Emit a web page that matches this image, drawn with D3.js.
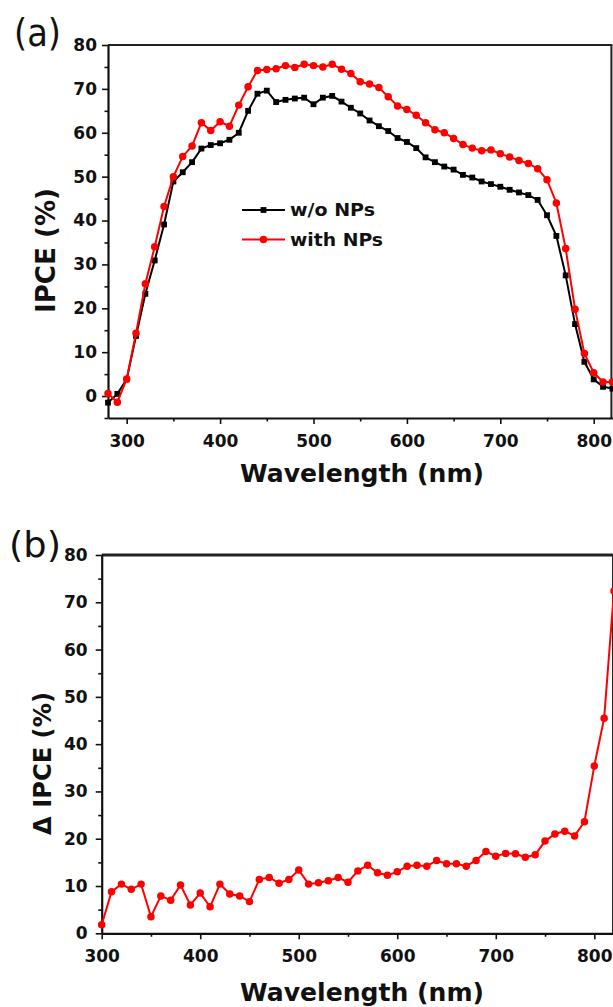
<!DOCTYPE html>
<html><head><meta charset="utf-8">
<script src="https://cdn.jsdelivr.net/npm/d3@7/dist/d3.min.js"></script>
<style>body{margin:0;background:#fff} svg{display:block}</style>
</head><body><svg id="c" width="613" height="1007"></svg>
<script>
// ---------- DATA ----------
const wavelengthA = [280,290,300,310,320,330,340,350,360,370,380,390,400,410,420,430,440,450,460,470,480,490,500,510,520,530,540,550,560,570,580,590,600,610,620,630,640,650,660,670,680,690,700,710,720,730,740,750,760,770,780,790,800,810,820];
const ipceWithout = [-1.5,0.5,3.8,13.7,23.3,30.9,39.1,48.9,51.0,53.3,56.4,57.2,57.6,58.4,60.0,65.0,68.9,69.6,67.0,67.5,67.8,68.0,66.5,68.0,68.4,67.1,65.7,64.4,62.8,61.5,60.4,58.8,57.9,56.5,54.4,53.3,52.3,51.6,50.4,49.8,48.9,48.3,47.7,47.0,46.4,45.8,44.7,41.2,36.5,27.5,16.4,7.8,3.8,2.1,1.7];
const ipceWith = [0.6,-1.4,3.9,14.3,25.6,34.0,43.2,50.0,54.6,57.0,62.3,60.5,62.5,61.5,66.3,70.5,74.2,74.4,74.6,75.3,74.9,75.6,75.3,75.0,75.6,74.5,73.5,71.6,71.1,70.3,68.2,66.1,65.3,64.0,62.3,60.7,60.0,58.7,57.3,56.5,55.9,56.1,55.2,54.5,53.7,53.0,51.8,49.3,44.0,33.6,19.8,9.7,5.3,3.2,3.2];
const wavelengthB = [300,310,320,330,340,350,360,370,380,390,400,410,420,430,440,450,460,470,480,490,500,510,520,530,540,550,560,570,580,590,600,610,620,630,640,650,660,670,680,690,700,710,720,730,740,750,760,770,780,790,800,810,820];
const deltaIPCE = [1.8,8.8,10.4,9.3,10.4,3.5,7.9,7.0,10.2,6.0,8.5,5.6,10.4,8.3,7.9,6.7,11.4,11.8,10.6,11.4,13.4,10.4,10.7,11.1,11.8,10.8,13.2,14.4,12.8,12.3,13.0,14.2,14.4,14.2,15.4,14.7,14.7,14.2,15.4,17.3,16.3,16.9,16.8,16.1,16.6,19.5,21.0,21.6,20.6,23.6,35.4,45.5,72.4];

const seriesNames = ["w/o NPs", "with NPs"];
const xMajorTicks = [300,400,500,600,700,800];
const xMinorTicks = [350,450,550,650,750];
const yMajorTicksA = [0,10,20,30,40,50,60,70,80];
const yMinorTicksA = [-5,5,15,25,35,45,55,65,75];
const yMajorTicksB = [0,10,20,30,40,50,60,70,80];
const yMinorTicksB = [5,15,25,35,45,55,65,75];
const xTitle = "Wavelength (nm)";
const yTitleA = "IPCE (%)";
const yTitleB = "\u0394 IPCE (%)";
const panelLabels = ["(a)", "(b)"];

// ---------- DRAW ----------
const svg = d3.select("#c");
const FONT = "'DejaVu Sans', Arial, sans-serif";
const RED = "#ff0000";

function axes(x, y, xMaj, xMin, yMaj, yMin, yPad, topW) {
  const g = svg.append("g");
  const y0 = y.range()[0], x0 = x.range()[0];
  g.append("line").attr("x1", x0).attr("x2", x.range()[1]).attr("y1", y.range()[1]).attr("y2", y.range()[1])
    .attr("stroke", "#222").attr("stroke-width", topW);
  g.append("line").attr("x1", x.range()[1]-1).attr("x2", x.range()[1]-1).attr("y1", y.range()[1]).attr("y2", y0)
    .attr("stroke", "#222").attr("stroke-width", 2);
  const gx = g.append("g").attr("transform", `translate(0,${y0})`);
  gx.call(d3.axisBottom(x).tickValues(xMaj).tickSize(6).tickSizeOuter(0).tickPadding(11).tickFormat(d3.format("d")));
  gx.append("g").call(d3.axisBottom(x).tickValues(xMin).tickSize(3.5).tickSizeOuter(0).tickFormat(""))
    .select(".domain").remove();
  const gy = g.append("g").attr("transform", `translate(${x0},0)`);
  gy.call(d3.axisLeft(y).tickValues(yMaj).tickSize(6).tickSizeOuter(0).tickPadding(yPad).tickFormat(d3.format("d")));
  gy.append("g").call(d3.axisLeft(y).tickValues(yMin).tickSize(3.5).tickSizeOuter(0).tickFormat(""))
    .select(".domain").remove();
  g.selectAll(".domain").attr("stroke", "#111").attr("stroke-width", 2.2);
  g.selectAll(".tick line").attr("stroke", "#111").attr("stroke-width", 1.6);
  g.selectAll(".tick text").attr("font-family", FONT).attr("font-weight", "bold")
    .attr("font-size", 17).attr("fill", "#111");
  return g;
}

function lineSeries(x, y, xs, ys, color, shape) {
  const pts = xs.map((d, i) => [d, ys[i]]);
  const line = d3.line().x(d => x(d[0])).y(d => y(d[1]));
  svg.append("path").attr("d", line(pts)).attr("fill", "none").attr("stroke", color).attr("stroke-width", 2);
  const sym = d3.symbol().type(shape === "square" ? d3.symbolSquare : d3.symbolCircle).size(shape === "square" ? 34 : 44);
  svg.append("g").selectAll("path").data(pts).join("path")
    .attr("transform", d => `translate(${x(d[0])},${y(d[1])})`)
    .attr("d", sym).attr("fill", color);
}

// Panel (a)
const xA = d3.scaleLinear().domain([280, 820]).range([108, 612.4]);
const yA = d3.scaleLinear().domain([-5, 80]).range([418, 45]);
axes(xA, yA, xMajorTicks, xMinorTicks, yMajorTicksA, yMinorTicksA, 5, 2.2);
lineSeries(xA, yA, wavelengthA, ipceWithout, "#000", "square");
lineSeries(xA, yA, wavelengthA, ipceWith, RED, "circle");

// legend
const legColors = ["#000", RED], legShapes = ["square", "circle"];
seriesNames.forEach((name, i) => {
  const ly = 210 + i * 29.5;
  svg.append("line").attr("x1", 242).attr("x2", 285).attr("y1", ly).attr("y2", ly)
    .attr("stroke", legColors[i]).attr("stroke-width", 2);
  svg.append("path").attr("transform", `translate(263.5,${ly})`)
    .attr("d", d3.symbol().type(legShapes[i] === "square" ? d3.symbolSquare : d3.symbolCircle).size(legShapes[i] === "square" ? 34 : 44)())
    .attr("fill", legColors[i]);
  svg.append("text").attr("x", 290).attr("y", ly + 6).text(name)
    .attr("font-family", FONT).attr("font-weight", "bold").attr("font-size", 17).attr("fill", "#111")
    .attr("textLength", i === 0 ? 85 : 93).attr("lengthAdjust", "spacingAndGlyphs");
});

// titles (a)
svg.append("text").attr("x", 362).attr("y", 482).attr("text-anchor", "middle").text(xTitle)
  .attr("font-family", FONT).attr("font-weight", "bold").attr("font-size", 24).attr("fill", "#111")
  .attr("textLength", 244).attr("lengthAdjust", "spacingAndGlyphs");
svg.append("text").attr("transform", "translate(55,250.5) rotate(-90)").attr("text-anchor", "middle").text(yTitleA)
  .attr("font-family", FONT).attr("font-weight", "bold").attr("font-size", 26).attr("fill", "#111")
  .attr("textLength", 125).attr("lengthAdjust", "spacingAndGlyphs");
svg.append("text").attr("x", 14).attr("y", 46).text(panelLabels[0])
  .attr("font-family", FONT).attr("font-size", 37).attr("fill", "#111")
  .attr("textLength", 47).attr("lengthAdjust", "spacingAndGlyphs");

// Panel (b)
const xB = d3.scaleLinear().domain([300, 820]).range([101.7, 614]);
const yB = d3.scaleLinear().domain([0, 80]).range([933.3, 555]);
axes(xB, yB, xMajorTicks, xMinorTicks, yMajorTicksB, yMinorTicksB, 8, 3);
lineSeries(xB, yB, wavelengthB, deltaIPCE, RED, "circle");

svg.append("text").attr("x", 362).attr("y", 1001).attr("text-anchor", "middle").text(xTitle)
  .attr("font-family", FONT).attr("font-weight", "bold").attr("font-size", 24).attr("fill", "#111")
  .attr("textLength", 244).attr("lengthAdjust", "spacingAndGlyphs");
svg.append("text").attr("transform", "translate(51,763.5) rotate(-90)").attr("text-anchor", "middle").text(yTitleB)
  .attr("font-family", FONT).attr("font-weight", "bold").attr("font-size", 25).attr("fill", "#111")
  .attr("textLength", 143).attr("lengthAdjust", "spacingAndGlyphs");
svg.append("text").attr("x", 9).attr("y", 557).text(panelLabels[1])
  .attr("font-family", FONT).attr("font-size", 35).attr("fill", "#111")
  .attr("textLength", 52).attr("lengthAdjust", "spacingAndGlyphs");
</script></body></html>
